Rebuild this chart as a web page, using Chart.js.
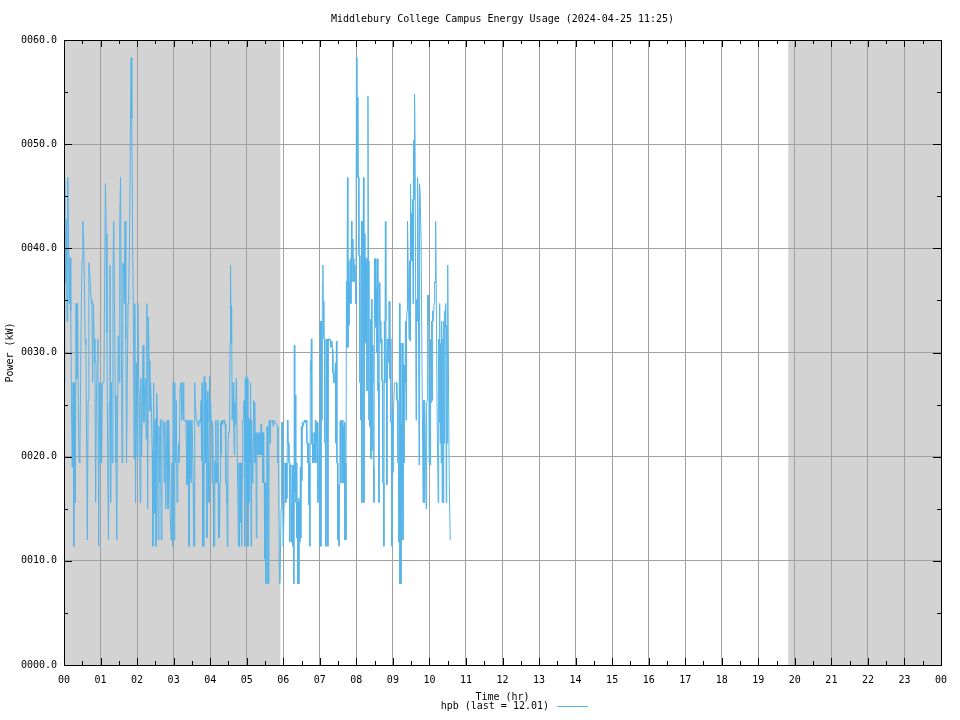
<!DOCTYPE html>
<html>
<head>
<meta charset="utf-8">
<script src="https://cdn.jsdelivr.net/npm/chart.js@4"></script>
<style>
html, body { margin: 0; padding: 0; background: #fff; }
</style>
</head>
<body>
<canvas id="chart" width="960" height="720"></canvas>
<script>
// chart text
const titleText = 'Middlebury College Campus Energy Usage (2024-04-25 11:25)';
const xTitle = 'Time (hr)';
const yTitle = 'Power (kW)';
const legendText = 'hpb (last = 12.01)';

// tick labels
const hourLabels = ['00','01','02','03','04','05','06','07','08','09','10','11','12',
                    '13','14','15','16','17','18','19','20','21','22','23','00'];
const powerLabels = ['0000.0','0010.0','0020.0','0030.0','0040.0','0050.0','0060.0'];

// night shading (hours)
const nightRanges = [[0, 5.92], [19.82, 24]];

// readings 00:00 - 03:09
const nightStart = 0;
const nightEnd = 3.155;
const nightPower = [
  27.1, 46.6, 36.7, 42.8, 33.0, 46.8, 40.9, 34.7, 39.1, 34.0,
  24.2, 19.0, 27.1, 11.4, 27.1, 15.6, 34.7, 27.5, 34.7, 25.2,
  19.6, 19.4, 27.1, 34.7, 38.8, 42.6, 40.9, 37.2, 31.3, 30.7,
  21.3, 12.0, 25.4, 38.6, 37.8, 36.3, 35.1, 34.7, 27.1, 34.7,
  31.3, 29.0, 15.6, 25.4, 29.2, 31.3, 11.4, 27.1, 19.4, 27.1,
  19.4, 27.1, 27.1, 27.5, 37.0, 46.2, 41.4, 31.9, 19.4, 12.0,
  25.2, 38.4, 15.6, 27.1, 19.4, 37.8, 42.6, 34.7, 25.9, 19.4,
  12.0, 23.3, 31.6, 27.1, 42.6, 46.8, 33.0, 19.4, 38.6, 38.4,
  34.7, 42.6, 31.3, 19.4, 27.5, 34.7, 36.8, 40.7, 50.4, 58.3,
  52.5, 40.9, 34.7, 19.8, 34.7, 15.6, 29.0, 20.0, 34.7, 27.5,
  25.4, 15.6, 27.5, 20.0, 25.4, 30.7, 23.3, 25.9, 27.5, 21.7,
  34.7, 15.0, 33.4, 29.2, 24.4, 27.1, 24.4, 20.6, 11.4, 27.1,
  14.5, 23.6, 11.4, 26.1, 23.3, 12.0, 22.9, 17.5, 23.6, 12.0,
  23.5, 23.5, 23.3, 17.5, 23.3, 15.0, 20.6, 23.5, 15.0, 23.5,
  19.4, 14.5, 12.0, 19.4, 11.4, 27.1, 12.0, 27.1, 19.4, 25.4,
  15.6, 19.4, 21.3, 19.4
];

// readings 03:10 - 06:09
const dawnStart = 3.175;
const dawnEnd = 6.157;
const dawnPower = [
  26.7, 26.7, 27.1, 23.5, 24.4, 25.2, 27.1, 23.5, 23.5, 23.5,
  23.5, 23.3, 21.3, 17.3, 23.5, 17.5, 23.5, 11.4, 23.3, 17.9,
  23.5, 17.5, 23.3, 23.5, 23.5, 17.5, 11.4, 11.4, 27.1, 25.2,
  25.2, 23.5, 23.5, 23.3, 23.1, 22.9, 23.5, 23.5, 23.3, 23.5,
  25.4, 19.6, 27.1, 11.4, 19.4, 11.4, 27.7, 19.4, 27.1, 19.4,
  25.4, 12.2, 26.3, 23.3, 19.4, 15.6, 27.7, 23.5, 25.4, 23.3,
  23.5, 17.5, 23.3, 17.5, 11.4, 11.4, 19.6, 17.5, 23.5, 17.5,
  19.4, 17.5, 23.5, 12.2, 17.5, 12.2, 17.5, 23.3, 20.2, 23.5,
  23.1, 23.3, 23.5, 23.3, 23.5, 23.1, 23.1, 17.5, 17.5, 15.6,
  11.4, 20.2, 22.3, 22.3, 22.3, 30.9, 38.4, 30.9, 34.5, 23.5,
  23.5, 27.1, 23.3, 20.2, 25.2, 23.1, 25.2, 27.5, 27.5, 19.4,
  19.4, 11.4, 19.4, 11.4, 19.4, 13.7, 19.4, 11.4, 17.9, 23.5,
  23.5, 25.2, 25.4, 11.4, 27.5, 19.4, 27.7, 15.6, 27.5, 11.4,
  23.7, 15.6, 23.5, 19.4, 27.1, 11.4, 23.5, 19.4, 17.5, 21.7,
  25.4, 19.4, 25.2, 19.4, 22.3, 12.2, 22.3, 20.2, 22.3, 20.2,
  22.3, 20.2, 22.3, 20.2, 23.1, 20.2, 22.3, 17.5, 22.3, 17.5,
  17.5, 10.2, 17.5, 7.8, 16.4, 22.9, 22.9, 7.8, 7.8, 23.3,
  23.5, 21.3, 23.3, 23.5, 23.5, 23.3, 23.5, 22.9, 22.9, 23.5,
  23.5, 23.3, 23.3, 23.1, 23.1, 22.9, 19.4, 19.4, 19.4, 7.8,
  7.8, 7.8, 15.0, 23.3, 23.3, 15.6, 11.4, 11.4, 15.6, 19.4,
  19.4, 15.6, 19.4, 16.0, 23.5, 21.3, 21.3, 19.4
];

// readings 06:10 - 08:37
const morningStart = 6.166;
const morningEnd = 8.62;
const morningPower = [
  19.4, 11.8, 19.2, 19.0, 15.4, 11.8, 19.2, 11.4, 19.2, 7.8,
  30.7, 16.6, 25.9, 15.6, 19.4, 12.2, 15.6, 7.8, 16.0, 7.8,
  15.6, 11.8, 19.0, 12.2, 22.9, 17.7, 23.3, 22.9, 23.1, 23.3,
  23.5, 23.3, 23.5, 23.3, 23.5, 21.3, 21.3, 19.4, 21.3, 15.4,
  19.4, 11.4, 29.2, 28.2, 31.3, 21.2, 22.3, 19.4, 21.2, 19.4,
  22.3, 19.6, 23.5, 19.4, 23.3, 21.3, 23.3, 15.6, 17.5, 19.4,
  22.3, 11.4, 33.0, 11.4, 33.0, 23.5, 36.7, 38.4, 34.9, 31.3,
  31.3, 21.3, 21.3, 11.4, 31.3, 21.3, 31.3, 11.4, 31.3, 31.3,
  31.3, 31.1, 31.1, 30.5, 30.5, 31.1, 30.3, 28.0, 28.0, 27.1,
  27.1, 28.0, 29.0, 21.3, 31.1, 19.4, 19.4, 12.0, 17.3, 11.4,
  17.3, 23.3, 23.5, 17.5, 23.3, 23.3, 23.5, 17.5, 22.9, 17.5,
  23.3, 12.0, 19.4, 12.0, 36.8, 30.5, 46.8, 30.5, 38.8, 32.6,
  36.8, 34.7, 39.0, 34.7, 42.6, 36.8, 40.9, 39.0, 39.0, 36.8,
  38.4, 36.8, 36.8, 34.7, 58.3, 46.8, 54.5, 46.8, 46.8, 39.3,
  39.3, 27.1, 27.1, 23.5, 42.6, 15.6, 42.6, 39.3, 46.8, 15.6,
  41.4, 31.1, 39.1, 30.9, 38.8, 26.3, 39.1, 54.6, 38.8, 23.5,
  23.5, 22.9, 33.2, 19.8, 35.1, 20.6, 30.7, 27.1, 19.0, 15.6,
  39.0, 33.0, 39.0, 32.4, 36.1, 30.0, 39.0, 26.3, 27.1, 15.6
];

// readings 08:38 - 10:34
const lateStart = 8.63;
const lateEnd = 10.57;
const latePower = [
  36.7, 33.0, 33.0, 30.9, 31.3, 27.3, 27.3, 17.5, 17.5, 11.4,
  33.0, 27.1, 42.6, 33.0, 29.0, 17.3, 31.3, 29.0, 31.3, 34.9,
  34.9, 27.5, 31.3, 23.3, 23.3, 11.4, 24.2, 18.5, 24.2, 24.2,
  27.1, 27.1, 27.1, 27.1, 27.1, 25.4, 25.4, 19.4, 19.4, 11.8,
  34.7, 7.8, 30.9, 7.8, 23.1, 15.6, 30.9, 12.0, 28.8, 19.4,
  28.8, 27.1, 33.0, 23.5, 33.0, 34.0, 42.6, 39.7, 39.7, 31.3,
  38.8, 31.1, 46.2, 38.8, 43.4, 38.8, 44.7, 34.7, 50.4, 44.7,
  54.8, 50.4, 50.4, 23.5, 35.1, 33.0, 46.8, 43.5, 43.5, 19.2,
  46.2, 45.3, 45.3, 40.9, 40.9, 27.5, 27.5, 15.6, 25.4, 15.6,
  25.4, 23.3, 23.3, 15.0, 25.2, 25.4, 35.5, 33.0, 35.5, 19.4,
  27.3, 19.2, 31.3, 25.2, 33.0, 25.4, 34.0, 33.0, 33.0, 34.7,
  36.8, 36.7, 42.6, 36.7, 36.7, 23.5, 23.5, 15.6, 31.3, 23.3,
  34.7, 21.3, 30.9, 19.4, 33.0, 15.6, 31.3, 15.6, 33.0, 21.3,
  34.0, 32.4, 34.7, 15.6, 32.6, 21.3, 38.4, 30.9, 30.9, 17.7,
  17.7, 12.0
];

// evenly spaced readings between start and end hour
function toPoints(values, start, end) {
  const step = (end - start) / (values.length - 1);
  return values.map((v, i) => ({ x: start + i * step, y: v }));
}
const powerPoints = []
  .concat(toPoints(nightPower, nightStart, nightEnd))
  .concat(toPoints(dawnPower, dawnStart, dawnEnd))
  .concat(toPoints(morningPower, morningStart, morningEnd))
  .concat(toPoints(latePower, lateStart, lateEnd));

const monoFont = 'DejaVu Sans Mono';
const lineColor = '#56b4e9';

// shading, border, tick marks and texts in gnuplot style
const framePlugin = {
  id: 'frame',
  beforeDraw(chart) {
    const ctx = chart.ctx, a = chart.chartArea, x = chart.scales.x;
    ctx.save();
    ctx.fillStyle = '#d3d3d3';
    nightRanges.forEach(r => {
      const x0 = x.getPixelForValue(r[0]), x1 = x.getPixelForValue(r[1]);
      ctx.fillRect(x0, a.top, x1 - x0, a.bottom - a.top);
    });
    ctx.restore();
  },
  afterDraw(chart) {
    const ctx = chart.ctx, a = chart.chartArea;
    const xs = chart.scales.x, ys = chart.scales.y;
    ctx.save();
    ctx.strokeStyle = '#000';
    ctx.lineWidth = 1;
    ctx.beginPath();
    for (let h = 0; h <= 24; h += 0.5) {
      const px = Math.round(xs.getPixelForValue(h)) + 0.5;
      const len = h % 1 === 0 ? 7 : 4;
      ctx.moveTo(px, a.top); ctx.lineTo(px, a.top + len);
      ctx.moveTo(px, a.bottom); ctx.lineTo(px, a.bottom - len);
    }
    for (let v = 0; v <= 60; v += 5) {
      const py = Math.round(ys.getPixelForValue(v)) + 0.5;
      const len = v % 10 === 0 ? 8 : 4;
      ctx.moveTo(a.left, py); ctx.lineTo(a.left + len, py);
      ctx.moveTo(a.right, py); ctx.lineTo(a.right - len, py);
    }
    ctx.stroke();
    ctx.strokeRect(a.left + 0.5, a.top + 0.5, a.right - a.left, a.bottom - a.top);

    ctx.fillStyle = '#000';
    ctx.font = '10px "' + monoFont + '"';
    ctx.textAlign = 'center';
    ctx.textBaseline = 'middle';
    const cx = (a.left + a.right) / 2;
    ctx.fillText(titleText, cx, 19);
    ctx.fillText(xTitle, cx, 697);

    ctx.save();
    ctx.translate(10, (a.top + a.bottom) / 2);
    ctx.rotate(-Math.PI / 2);
    ctx.fillText(yTitle, 0, 0);
    ctx.restore();

    ctx.textAlign = 'right';
    ctx.fillText(legendText, 549, 706);
    ctx.strokeStyle = lineColor;
    ctx.beginPath();
    ctx.moveTo(557, 706.5);
    ctx.lineTo(588, 706.5);
    ctx.stroke();
    ctx.restore();
  }
};

new Chart(document.getElementById('chart'), {
  type: 'line',
  data: {
    datasets: [{
      label: 'hpb',
      data: powerPoints,
      borderColor: lineColor,
      borderWidth: 1,
      pointRadius: 0,
      tension: 0,
      fill: false
    }]
  },
  options: {
    responsive: false,
    animation: false,
    layout: { padding: { top: 40, right: 19, left: 0, bottom: 0 } },
    plugins: {
      legend: { display: false },
      title: { display: false },
      tooltip: { enabled: false }
    },
    scales: {
      x: {
        type: 'linear',
        min: 0,
        max: 24,
        afterFit(scale) { scale.height = 55; },
        grid: { color: '#a0a0a0', drawTicks: false },
        border: { display: false },
        ticks: {
          stepSize: 1,
          autoSkip: false,
          maxRotation: 0,
          padding: 9,
          color: '#000',
          font: { family: monoFont, size: 10 },
          callback: v => hourLabels[v]
        }
      },
      y: {
        min: 0,
        max: 60,
        afterFit(scale) { scale.width = 64; },
        grid: { color: '#a0a0a0', drawTicks: false },
        border: { display: false },
        ticks: {
          stepSize: 10,
          padding: 7,
          color: '#000',
          font: { family: monoFont, size: 10 },
          callback: v => powerLabels[v / 10]
        }
      }
    }
  },
  plugins: [framePlugin]
});
</script>
</body>
</html>
